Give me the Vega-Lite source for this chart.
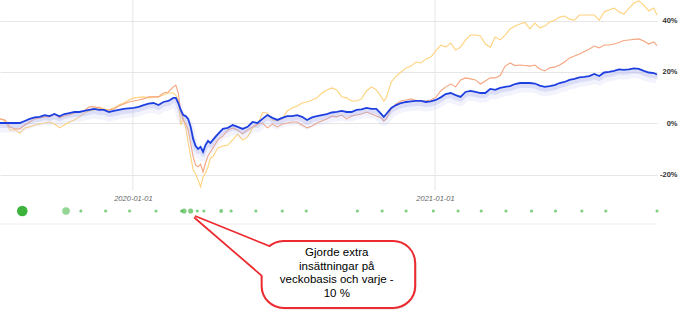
{
  "$schema": "https://vega.github.io/schema/vega-lite/v6.json",
  "autosize": "none",
  "width": 657,
  "height": 312,
  "padding": {"left": 0, "top": 0, "right": 33, "bottom": 0},
  "background": "white",
  "config": {
    "view": {"stroke": null},
    "font": "Liberation Sans",
    "axisY": {
      "grid": true, "gridColor": "#e6e6e6", "gridWidth": 1,
      "domain": false, "ticks": false, "tickSize": 0,
      "labelAlign": "right", "labelPadding": 20,
      "labelFontSize": 7.5, "labelFontWeight": "bold", "labelColor": "#333333"
    },
    "axisX": {
      "grid": false, "domain": false, "ticks": false, "tickSize": 0,
      "labelFontSize": 7.5, "labelFontStyle": "italic", "labelColor": "#666666",
      "labelPadding": 4
    }
  },
  "datasets": {
    "perf": [
      {"d": "2019-07-24", "portfolio": 0.1, "fundA": 1.7, "fundB": 1.7},
      {"d": "2019-07-30", "portfolio": 0.1, "fundA": 1.3, "fundB": 0.9},
      {"d": "2019-08-05", "portfolio": 0.1, "fundA": -1.4, "fundB": -2.6},
      {"d": "2019-08-11", "portfolio": 0.1, "fundA": -2.2, "fundB": -2.6},
      {"d": "2019-08-17", "portfolio": 0.1, "fundA": -2.2, "fundB": -3.8},
      {"d": "2019-08-23", "portfolio": 0.9, "fundA": -0.7, "fundB": -1.8},
      {"d": "2019-08-29", "portfolio": 1.7, "fundA": 0.5, "fundB": -1.4},
      {"d": "2019-09-04", "portfolio": 2.3, "fundA": 1.7, "fundB": -0.7},
      {"d": "2019-09-10", "portfolio": 2.5, "fundA": 2.1, "fundB": -0.3},
      {"d": "2019-09-16", "portfolio": 3.2, "fundA": 2.5, "fundB": 0.1},
      {"d": "2019-09-22", "portfolio": 2.8, "fundA": 2.5, "fundB": 0.5},
      {"d": "2019-09-28", "portfolio": 3.6, "fundA": 3.6, "fundB": -0.3},
      {"d": "2019-10-04", "portfolio": 2.7, "fundA": 2.1, "fundB": -1.8},
      {"d": "2019-10-10", "portfolio": 3.6, "fundA": 2.8, "fundB": -0.7},
      {"d": "2019-10-16", "portfolio": 4.0, "fundA": 3.2, "fundB": 0.5},
      {"d": "2019-10-22", "portfolio": 4.4, "fundA": 4.0, "fundB": 1.3},
      {"d": "2019-10-28", "portfolio": 4.4, "fundA": 4.4, "fundB": 2.5},
      {"d": "2019-11-03", "portfolio": 4.8, "fundA": 4.8, "fundB": 4.0},
      {"d": "2019-11-09", "portfolio": 5.2, "fundA": 6.4, "fundB": 4.8},
      {"d": "2019-11-15", "portfolio": 5.6, "fundA": 6.4, "fundB": 5.2},
      {"d": "2019-11-21", "portfolio": 5.2, "fundA": 6.0, "fundB": 6.4},
      {"d": "2019-11-27", "portfolio": 5.2, "fundA": 5.2, "fundB": 5.6},
      {"d": "2019-12-03", "portfolio": 4.4, "fundA": 5.2, "fundB": 5.2},
      {"d": "2019-12-09", "portfolio": 4.8, "fundA": 5.6, "fundB": 6.0},
      {"d": "2019-12-15", "portfolio": 5.2, "fundA": 6.7, "fundB": 7.1},
      {"d": "2019-12-21", "portfolio": 5.6, "fundA": 7.5, "fundB": 7.9},
      {"d": "2019-12-27", "portfolio": 5.8, "fundA": 8.3, "fundB": 9.1},
      {"d": "2020-01-02", "portfolio": 6.0, "fundA": 8.7, "fundB": 9.9},
      {"d": "2020-01-08", "portfolio": 6.4, "fundA": 9.1, "fundB": 10.1},
      {"d": "2020-01-14", "portfolio": 7.1, "fundA": 9.5, "fundB": 10.3},
      {"d": "2020-01-20", "portfolio": 7.7, "fundA": 10.3, "fundB": 9.9},
      {"d": "2020-01-26", "portfolio": 7.9, "fundA": 10.3, "fundB": 10.3},
      {"d": "2020-02-01", "portfolio": 7.1, "fundA": 10.3, "fundB": 10.3},
      {"d": "2020-02-07", "portfolio": 8.3, "fundA": 11.8, "fundB": 11.0},
      {"d": "2020-02-13", "portfolio": 8.7, "fundA": 12.2, "fundB": 11.8},
      {"d": "2020-02-19", "portfolio": 9.9, "fundA": 14.2, "fundB": 11.8},
      {"d": "2020-02-22", "portfolio": 9.9, "fundA": 14.9, "fundB": 11.0},
      {"d": "2020-02-25", "portfolio": 7.9, "fundA": 11.8, "fundB": 9.1},
      {"d": "2020-02-28", "portfolio": 5.2, "fundA": 4.4, "fundB": -0.7},
      {"d": "2020-03-02", "portfolio": 3.2, "fundA": 1.3, "fundB": 2.1},
      {"d": "2020-03-05", "portfolio": 2.8, "fundA": -0.3, "fundB": -1.8},
      {"d": "2020-03-08", "portfolio": 1.7, "fundA": -2.6, "fundB": -7.7},
      {"d": "2020-03-11", "portfolio": -1.4, "fundA": -7.7, "fundB": -12.8},
      {"d": "2020-03-14", "portfolio": -6.1, "fundA": -13.1, "fundB": -18.2},
      {"d": "2020-03-17", "portfolio": -8.9, "fundA": -16.3, "fundB": -19.8},
      {"d": "2020-03-20", "portfolio": -10.0, "fundA": -17.0, "fundB": -22.1},
      {"d": "2020-03-23", "portfolio": -9.2, "fundA": -15.9, "fundB": -24.8},
      {"d": "2020-03-26", "portfolio": -11.2, "fundA": -19.0, "fundB": -20.9},
      {"d": "2020-03-29", "portfolio": -8.5, "fundA": -15.5, "fundB": -19.4},
      {"d": "2020-04-01", "portfolio": -6.9, "fundA": -12.8, "fundB": -17.0},
      {"d": "2020-04-04", "portfolio": -7.7, "fundA": -11.2, "fundB": -13.5},
      {"d": "2020-04-07", "portfolio": -6.5, "fundA": -9.6, "fundB": -13.1},
      {"d": "2020-04-10", "portfolio": -5.3, "fundA": -8.1, "fundB": -11.2},
      {"d": "2020-04-13", "portfolio": -4.2, "fundA": -6.5, "fundB": -9.6},
      {"d": "2020-04-19", "portfolio": -2.2, "fundA": -5.0, "fundB": -8.9},
      {"d": "2020-04-25", "portfolio": -1.8, "fundA": -2.6, "fundB": -8.5},
      {"d": "2020-05-01", "portfolio": -0.7, "fundA": -1.8, "fundB": -6.5},
      {"d": "2020-05-07", "portfolio": -1.4, "fundA": -2.6, "fundB": -4.2},
      {"d": "2020-05-13", "portfolio": -2.2, "fundA": -4.2, "fundB": -6.5},
      {"d": "2020-05-19", "portfolio": -1.4, "fundA": -2.6, "fundB": -5.3},
      {"d": "2020-05-25", "portfolio": 0.5, "fundA": -1.4, "fundB": -1.8},
      {"d": "2020-05-31", "portfolio": 0.1, "fundA": -0.3, "fundB": -0.7},
      {"d": "2020-06-06", "portfolio": 1.7, "fundA": 0.1, "fundB": 4.2},
      {"d": "2020-06-12", "portfolio": 3.2, "fundA": -1.8, "fundB": 4.0},
      {"d": "2020-06-18", "portfolio": 2.1, "fundA": -0.3, "fundB": 1.3},
      {"d": "2020-06-24", "portfolio": 1.3, "fundA": -1.4, "fundB": 0.9},
      {"d": "2020-06-30", "portfolio": 2.1, "fundA": -0.3, "fundB": 1.7},
      {"d": "2020-07-06", "portfolio": 2.8, "fundA": 0.1, "fundB": 4.8},
      {"d": "2020-07-12", "portfolio": 2.8, "fundA": 0.5, "fundB": 6.0},
      {"d": "2020-07-18", "portfolio": 3.2, "fundA": 0.5, "fundB": 6.7},
      {"d": "2020-07-24", "portfolio": 2.5, "fundA": -0.7, "fundB": 7.9},
      {"d": "2020-07-30", "portfolio": 1.3, "fundA": -1.8, "fundB": 8.3},
      {"d": "2020-08-05", "portfolio": 2.3, "fundA": -1.1, "fundB": 9.1},
      {"d": "2020-08-11", "portfolio": 2.8, "fundA": 0.1, "fundB": 9.9},
      {"d": "2020-08-17", "portfolio": 3.2, "fundA": 0.9, "fundB": 11.8},
      {"d": "2020-08-23", "portfolio": 3.6, "fundA": 1.7, "fundB": 13.0},
      {"d": "2020-08-29", "portfolio": 4.2, "fundA": 2.8, "fundB": 13.8},
      {"d": "2020-09-04", "portfolio": 4.4, "fundA": 2.5, "fundB": 13.0},
      {"d": "2020-09-10", "portfolio": 4.8, "fundA": 3.2, "fundB": 10.3},
      {"d": "2020-09-16", "portfolio": 4.4, "fundA": 1.7, "fundB": 9.9},
      {"d": "2020-09-22", "portfolio": 4.4, "fundA": 2.8, "fundB": 8.7},
      {"d": "2020-09-28", "portfolio": 5.2, "fundA": 3.2, "fundB": 8.7},
      {"d": "2020-10-04", "portfolio": 5.4, "fundA": 3.6, "fundB": 9.5},
      {"d": "2020-10-10", "portfolio": 6.0, "fundA": 4.4, "fundB": 12.6},
      {"d": "2020-10-16", "portfolio": 5.6, "fundA": 3.6, "fundB": 14.2},
      {"d": "2020-10-22", "portfolio": 5.6, "fundA": 2.8, "fundB": 13.0},
      {"d": "2020-10-28", "portfolio": 3.6, "fundA": 2.1, "fundB": 10.3},
      {"d": "2020-10-31", "portfolio": 2.5, "fundA": 0.9, "fundB": 8.7},
      {"d": "2020-11-03", "portfolio": 3.6, "fundA": 1.7, "fundB": 9.9},
      {"d": "2020-11-09", "portfolio": 6.0, "fundA": 5.6, "fundB": 16.1},
      {"d": "2020-11-15", "portfolio": 7.1, "fundA": 7.5, "fundB": 18.4},
      {"d": "2020-11-21", "portfolio": 7.9, "fundA": 8.7, "fundB": 20.0},
      {"d": "2020-11-27", "portfolio": 8.3, "fundA": 9.1, "fundB": 21.6},
      {"d": "2020-12-03", "portfolio": 8.5, "fundA": 9.5, "fundB": 22.3},
      {"d": "2020-12-09", "portfolio": 8.7, "fundA": 8.9, "fundB": 23.9},
      {"d": "2020-12-15", "portfolio": 8.7, "fundA": 8.7, "fundB": 23.5},
      {"d": "2020-12-21", "portfolio": 8.3, "fundA": 8.7, "fundB": 25.1},
      {"d": "2020-12-27", "portfolio": 8.5, "fundA": 9.1, "fundB": 25.8},
      {"d": "2021-01-02", "portfolio": 9.1, "fundA": 10.1, "fundB": 28.2},
      {"d": "2021-01-08", "portfolio": 10.1, "fundA": 12.6, "fundB": 30.5},
      {"d": "2021-01-14", "portfolio": 11.4, "fundA": 14.2, "fundB": 29.7},
      {"d": "2021-01-20", "portfolio": 11.8, "fundA": 15.3, "fundB": 31.3},
      {"d": "2021-01-26", "portfolio": 11.0, "fundA": 14.2, "fundB": 28.6},
      {"d": "2021-02-01", "portfolio": 10.3, "fundA": 16.9, "fundB": 29.7},
      {"d": "2021-02-07", "portfolio": 12.2, "fundA": 17.7, "fundB": 32.5},
      {"d": "2021-02-13", "portfolio": 12.6, "fundA": 17.3, "fundB": 34.4},
      {"d": "2021-02-19", "portfolio": 12.2, "fundA": 16.9, "fundB": 34.4},
      {"d": "2021-02-25", "portfolio": 11.8, "fundA": 15.3, "fundB": 34.0},
      {"d": "2021-03-03", "portfolio": 11.8, "fundA": 16.5, "fundB": 30.9},
      {"d": "2021-03-09", "portfolio": 13.4, "fundA": 17.7, "fundB": 29.7},
      {"d": "2021-03-15", "portfolio": 13.0, "fundA": 17.7, "fundB": 33.6},
      {"d": "2021-03-21", "portfolio": 13.8, "fundA": 18.6, "fundB": 32.5},
      {"d": "2021-03-27", "portfolio": 14.2, "fundA": 22.3, "fundB": 34.4},
      {"d": "2021-04-02", "portfolio": 14.5, "fundA": 23.5, "fundB": 36.8},
      {"d": "2021-04-08", "portfolio": 15.3, "fundA": 22.5, "fundB": 37.9},
      {"d": "2021-04-14", "portfolio": 15.7, "fundA": 22.7, "fundB": 38.7},
      {"d": "2021-04-20", "portfolio": 15.7, "fundA": 22.5, "fundB": 39.3},
      {"d": "2021-04-26", "portfolio": 15.7, "fundA": 22.3, "fundB": 36.8},
      {"d": "2021-05-02", "portfolio": 15.5, "fundA": 22.7, "fundB": 39.1},
      {"d": "2021-05-08", "portfolio": 14.7, "fundA": 21.2, "fundB": 37.2},
      {"d": "2021-05-14", "portfolio": 14.2, "fundA": 20.4, "fundB": 37.9},
      {"d": "2021-05-20", "portfolio": 14.5, "fundA": 21.6, "fundB": 39.5},
      {"d": "2021-05-26", "portfolio": 14.9, "fundA": 21.9, "fundB": 40.2},
      {"d": "2021-06-01", "portfolio": 15.7, "fundA": 22.7, "fundB": 41.4},
      {"d": "2021-06-07", "portfolio": 16.1, "fundA": 23.9, "fundB": 41.8},
      {"d": "2021-06-13", "portfolio": 16.9, "fundA": 25.5, "fundB": 40.6},
      {"d": "2021-06-19", "portfolio": 17.3, "fundA": 26.2, "fundB": 40.2},
      {"d": "2021-06-25", "portfolio": 17.9, "fundA": 27.0, "fundB": 42.2},
      {"d": "2021-07-01", "portfolio": 18.1, "fundA": 28.0, "fundB": 42.2},
      {"d": "2021-07-07", "portfolio": 18.4, "fundA": 29.0, "fundB": 42.2},
      {"d": "2021-07-13", "portfolio": 19.2, "fundA": 30.1, "fundB": 42.2},
      {"d": "2021-07-19", "portfolio": 18.4, "fundA": 29.4, "fundB": 40.2},
      {"d": "2021-07-25", "portfolio": 19.8, "fundA": 30.5, "fundB": 43.4},
      {"d": "2021-07-31", "portfolio": 20.0, "fundA": 30.5, "fundB": 44.3},
      {"d": "2021-08-06", "portfolio": 20.4, "fundA": 30.9, "fundB": 44.9},
      {"d": "2021-08-12", "portfolio": 21.0, "fundA": 31.5, "fundB": 43.4},
      {"d": "2021-08-18", "portfolio": 20.8, "fundA": 32.3, "fundB": 42.6},
      {"d": "2021-08-24", "portfolio": 21.0, "fundA": 32.5, "fundB": 44.9},
      {"d": "2021-08-30", "portfolio": 21.4, "fundA": 32.7, "fundB": 46.9},
      {"d": "2021-09-05", "portfolio": 21.2, "fundA": 32.9, "fundB": 47.7},
      {"d": "2021-09-11", "portfolio": 20.4, "fundA": 32.1, "fundB": 46.1},
      {"d": "2021-09-17", "portfolio": 19.8, "fundA": 30.9, "fundB": 43.8},
      {"d": "2021-09-23", "portfolio": 19.6, "fundA": 31.7, "fundB": 44.9},
      {"d": "2021-09-27", "portfolio": 19.0, "fundA": 30.3, "fundB": 42.2}
    ],
    "deposits": [
      {"d": "2019-08-20", "amount": 10000},
      {"d": "2019-10-12", "amount": 5000},
      {"d": "2019-10-30", "amount": 500},
      {"d": "2019-11-29", "amount": 500},
      {"d": "2019-12-28", "amount": 500},
      {"d": "2020-01-29", "amount": 500},
      {"d": "2020-02-29", "amount": 500},
      {"d": "2020-03-03", "amount": 2000},
      {"d": "2020-03-11", "amount": 2000},
      {"d": "2020-03-19", "amount": 500},
      {"d": "2020-03-27", "amount": 500},
      {"d": "2020-04-17", "amount": 1000},
      {"d": "2020-04-29", "amount": 500},
      {"d": "2020-05-29", "amount": 500},
      {"d": "2020-06-30", "amount": 500},
      {"d": "2020-07-29", "amount": 500},
      {"d": "2020-09-29", "amount": 500},
      {"d": "2020-10-29", "amount": 500},
      {"d": "2020-11-27", "amount": 500},
      {"d": "2020-12-30", "amount": 500},
      {"d": "2021-01-29", "amount": 500},
      {"d": "2021-02-26", "amount": 500},
      {"d": "2021-03-28", "amount": 500},
      {"d": "2021-04-28", "amount": 500},
      {"d": "2021-05-27", "amount": 500},
      {"d": "2021-06-28", "amount": 500},
      {"d": "2021-07-27", "amount": 500},
      {"d": "2021-09-27", "amount": 500}
    ],
    "yearMarks": [
      {"d": "2020-01-01"},
      {"d": "2021-01-01"}
    ],
    "calloutTail": [
      {"d": "2020-03-16", "upper": -36.5, "lower": -36.5},
      {"d": "2020-06-30", "upper": -50.3, "lower": -65.9}
    ]
  },
  "layer": [
    {
      "data": {"name": "yearMarks"},
      "mark": {"type": "rule", "color": "#e6e6e6", "strokeWidth": 1},
      "encoding": {
        "x": {
          "field": "d", "type": "temporal", "title": null,
          "scale": {
            "type": "utc", "nice": false,
            "domain": [
              {"year": 2019, "month": 7, "date": 24, "utc": true},
              {"year": 2021, "month": 9, "date": 27, "utc": true}
            ]
          },
          "axis": {
            "orient": "bottom", "offset": -122, "format": "%Y-%m-%d", "title": null,
            "values": [
              {"year": 2020, "month": 1, "date": 1, "utc": true},
              {"year": 2021, "month": 1, "date": 1, "utc": true}
            ]
          }
        },
        "y": {
          "datum": 48.07, "type": "quantitative", "title": null,
          "scale": {"domain": [-73.6, 48.07], "nice": false, "zero": false},
          "axis": {"orient": "right", "title": null, "values": [-20, 0, 20, 40], "labelExpr": "datum.value + '%'"}
        },
        "y2": {"datum": -26.1}
      }
    },
    {
      "data": {"values": [{}]},
      "mark": {"type": "rule", "color": "#ececec", "strokeWidth": 1},
      "encoding": {
        "y": {"datum": -39.3, "type": "quantitative", "title": null}
      }
    },
    {
      "data": {"name": "perf"},
      "mark": {"type": "line", "color": "#ffd27c", "strokeWidth": 1.1},
      "encoding": {
        "x": {"field": "d", "type": "temporal", "title": null},
        "y": {"field": "fundB", "type": "quantitative", "title": null}
      }
    },
    {
      "data": {"name": "perf"},
      "mark": {"type": "line", "color": "#f6a47e", "strokeWidth": 1.1},
      "encoding": {
        "x": {"field": "d", "type": "temporal", "title": null},
        "y": {"field": "fundA", "type": "quantitative", "title": null}
      }
    },
    {
      "data": {"name": "perf"},
      "mark": {"type": "line", "color": "#b9bff0", "strokeWidth": 9, "opacity": 0.18, "yOffset": 5, "strokeJoin": "round"},
      "encoding": {
        "x": {"field": "d", "type": "temporal", "title": null},
        "y": {"field": "portfolio", "type": "quantitative", "title": null}
      }
    },
    {
      "data": {"name": "perf"},
      "mark": {"type": "line", "color": "#a9b0ec", "strokeWidth": 4, "opacity": 0.3, "yOffset": 3, "strokeJoin": "round"},
      "encoding": {
        "x": {"field": "d", "type": "temporal", "title": null},
        "y": {"field": "portfolio", "type": "quantitative", "title": null}
      }
    },
    {
      "data": {"name": "perf"},
      "mark": {"type": "line", "color": "#1e3fe0", "strokeWidth": 1.8},
      "encoding": {
        "x": {"field": "d", "type": "temporal", "title": null},
        "y": {"field": "portfolio", "type": "quantitative", "title": null}
      }
    },
    {
      "data": {"name": "deposits"},
      "mark": {"type": "circle", "color": "#3cb43c"},
      "encoding": {
        "x": {"field": "d", "type": "temporal", "title": null},
        "y": {"datum": -34.2, "type": "quantitative", "title": null},
        "size": {"field": "amount", "type": "quantitative", "scale": {"domain": [500, 10000], "range": [10, 113]}, "legend": null},
        "opacity": {"field": "amount", "type": "quantitative", "scale": {"type": "threshold", "domain": [4000, 8000], "range": [0.65, 0.55, 1]}, "legend": null}
      }
    },
    {
      "data": {"values": [{}]},
      "mark": {"type": "rect", "fill": null, "stroke": "#888888", "strokeWidth": 3, "opacity": 0.3, "cornerRadius": 22, "xOffset": 2, "yOffset": 2},
      "encoding": {
        "x": {"datum": {"year": 2020, "month": 6, "date": 5, "utc": true}, "type": "temporal", "title": null},
        "x2": {"datum": {"year": 2020, "month": 12, "date": 8, "utc": true}},
        "y": {"datum": -45.9, "type": "quantitative", "title": null},
        "y2": {"datum": -72.0}
      }
    },
    {
      "data": {"name": "calloutTail"},
      "mark": {"type": "area", "fill": "white", "stroke": "#ec2a2f", "strokeWidth": 3.5, "strokeJoin": "miter"},
      "encoding": {
        "x": {"field": "d", "type": "temporal", "title": null},
        "y": {"field": "upper", "type": "quantitative", "title": null},
        "y2": {"field": "lower"}
      }
    },
    {
      "data": {"values": [{}]},
      "mark": {"type": "rect", "fill": "white", "stroke": "#ec2a2f", "strokeWidth": 2, "cornerRadius": 22},
      "encoding": {
        "x": {"datum": {"year": 2020, "month": 6, "date": 5, "utc": true}, "type": "temporal", "title": null},
        "x2": {"datum": {"year": 2020, "month": 12, "date": 8, "utc": true}},
        "y": {"datum": -45.9, "type": "quantitative", "title": null},
        "y2": {"datum": -72.0}
      }
    },
    {
      "data": {"name": "calloutTail"},
      "mark": {"type": "area", "fill": "white", "stroke": null},
      "encoding": {
        "x": {"field": "d", "type": "temporal", "title": null},
        "y": {"field": "upper", "type": "quantitative", "title": null},
        "y2": {"field": "lower"}
      }
    },
    {
      "data": {"values": [{}]},
      "mark": {"type": "text", "align": "center", "baseline": "middle", "fontSize": 11.5, "lineHeight": 13.7, "color": "#000000", "font": "Liberation Sans"},
      "encoding": {
        "x": {"datum": {"year": 2020, "month": 9, "date": 4, "utc": true}, "type": "temporal", "title": null},
        "y": {"datum": -50.6, "type": "quantitative", "title": null},
        "text": {"value": ["Gjorde extra", "insättningar på", "veckobasis och varje -", "10 %"]}
      }
    }
  ]
}
